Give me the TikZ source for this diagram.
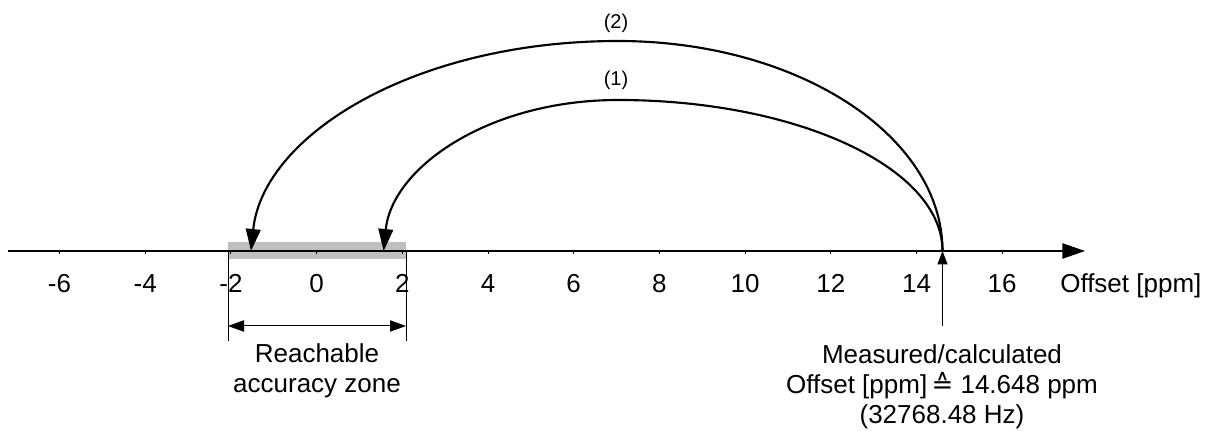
\documentclass[tikz,border=0pt]{standalone}
\usepackage{fontspec}
\setmainfont{Liberation Sans}
\newfontfamily\symfont{DejaVu Sans}
\usetikzlibrary{arrows.meta}
\definecolor{zonegray}{HTML}{BFBFBF}
\begin{document}
\begin{tikzpicture}[x=0.75pt,y=-0.75pt,
  lbl/.style={font=\fontsize{19.5}{22.5}\selectfont, inner sep=0pt},
  ticklbl/.style={lbl, anchor=base},
  arclbl/.style={font=\fontsize{15}{18}\selectfont, inner sep=0pt},
  axisline/.style={line width=1pt},
  arcline/.style={line width=1.6pt},
  thinline/.style={line width=0.75pt},
  bigtip/.style={-{Triangle[length=17pt,width=11.5pt]}},
  arctip/.style={-{Triangle[length=16.5pt,width=11pt]}},
  smalltip/.style={-{Triangle[length=10pt,width=7.5pt]}},
  dimtip/.style={{Triangle[length=12pt,width=8.5pt]}-{Triangle[length=12pt,width=8.5pt]}},
]
\useasboundingbox (0,0) rectangle (1215,431);
% zone
\fill[zonegray] (228,242) rectangle (406,259);
% coordinates
\coordinate (ax0) at (8,251);
\coordinate (ax1) at (1085,251);
\coordinate (meas) at (942.5,251);
\coordinate (measlow) at (942.5,326);
\coordinate (t2) at (251,251);
\coordinate (t1) at (383.6,251);
\coordinate (p2) at (618,41);
\coordinate (p1) at (618,100);
\coordinate (zl) at (228,251);
\coordinate (zr) at (406,251);
\coordinate (zlb) at (228,340.5);
\coordinate (zrb) at (406,340.5);
\coordinate (dl) at (228,326);
\coordinate (dr) at (406,326);
% axis
\draw[axisline, bigtip] (ax0) -- (ax1);
\foreach \v in {-6,-4,...,16} {
  \draw[thinline] ({316.6+42.85*\v},251) -- ++(0,3.5);
  \node[ticklbl] (lab\v) at ({316.6+42.85*\v},293) {\v};
}
\node[lbl, anchor=base west] (axlabel) at (1060,293) {Offset [ppm]};
% arcs
\draw[arcline, arctip] (meas) .. controls (942.5,135) and (797,41) .. (p2)
   .. controls (415,41) and (263,135) .. (t2);
\draw[arcline, arctip] (meas) .. controls (942.5,167.6) and (797,100) .. (p1)
   .. controls (488.6,100) and (392,167.6) .. (t1);
\node[arclbl] (l2) at (616,23.5) {(2)};
\node[arclbl] (l1) at (616,80) {(1)};
% measured arrow
\draw[thinline, smalltip] (measlow) -- (meas);
% zone dimension
\draw[thinline] (zl) -- (zlb);
\draw[thinline] (zr) -- (zrb);
\draw[thinline, dimtip] (dl) -- (dr);
% bottom texts
\node[lbl, anchor=north, align=center] (zone) at (317,343) {Reachable\\accuracy zone};
\node[lbl, anchor=north, align=center] (mtext) at (942,344) {Measured/calculated\\Offset [ppm]\,{\symfont ≙} 14.648 ppm\\(32768.48 Hz)};
\end{tikzpicture}
\end{document}
